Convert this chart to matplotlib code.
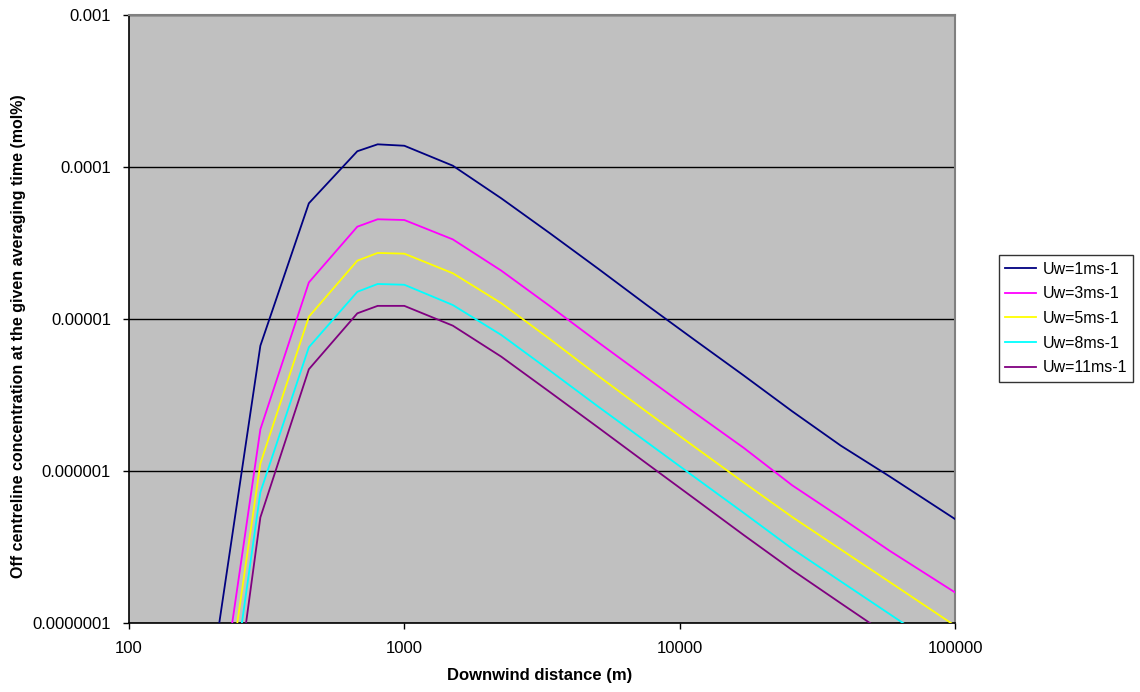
import numpy as np
import matplotlib
matplotlib.use("Agg")
import matplotlib.pyplot as plt

plt.rcParams["font.family"] = ["Liberation Sans", "DejaVu Sans"]

# ── Data: downwind distance (m) and off-centreline concentration (mol%) ──────
distance = [200, 300, 450, 675, 800, 1000, 1500, 2250, 3375, 5063, 7594,
            11391, 17086, 25629, 38443, 57665, 100000]

conc_uw1 = [4.7e-8, 6.67e-6, 5.77e-5, 1.27e-4, 1.41e-4, 1.38e-4, 1.02e-4,
            6.22e-5, 3.67e-5, 2.14e-5, 1.236e-5, 7.23e-6, 4.25e-6, 2.47e-6,
            1.47e-6, 9.25e-7, 4.83e-7]
conc_uw3 = [1.2e-8, 1.88e-6, 1.74e-5, 4.05e-5, 4.53e-5, 4.48e-5, 3.34e-5,
            2.08e-5, 1.217e-5, 7.02e-6, 4.1e-6, 2.4e-6, 1.42e-6, 8.05e-7,
            4.94e-7, 3.0e-7, 1.59e-7]
conc_uw5 = [7.0e-9, 1.12e-6, 1.035e-5, 2.42e-5, 2.72e-5, 2.69e-5, 2.0e-5,
            1.27e-5, 7.38e-6, 4.22e-6, 2.45e-6, 1.43e-6, 8.4e-7, 4.98e-7,
            3.05e-7, 1.87e-7, 9.6e-8]
conc_uw8 = [4.0e-9, 7.24e-7, 6.52e-6, 1.51e-5, 1.70e-5, 1.68e-5, 1.236e-5,
            7.85e-6, 4.58e-6, 2.65e-6, 1.55e-6, 9.05e-7, 5.3e-7, 3.08e-7,
            1.88e-7, 1.15e-7, 5.9e-8]
conc_uw11 = [2.2e-9, 4.95e-7, 4.67e-6, 1.09e-5, 1.22e-5, 1.22e-5, 9.04e-6,
             5.65e-6, 3.31e-6, 1.93e-6, 1.12e-6, 6.52e-7, 3.79e-7, 2.23e-7,
             1.35e-7, 8.2e-8, 4.2e-8]

series_labels = ["Uw=1ms-1", "Uw=3ms-1", "Uw=5ms-1", "Uw=8ms-1", "Uw=11ms-1"]
series_values = [conc_uw1, conc_uw3, conc_uw5, conc_uw8, conc_uw11]
series_colors = ["#000080", "#FF00FF", "#FFFF00", "#00FFFF", "#800080"]

x_ticks = [100, 1000, 10000, 100000]
x_ticklabels = ["100", "1000", "10000", "100000"]
y_ticks = [1e-7, 1e-6, 1e-5, 1e-4, 1e-3]
y_ticklabels = ["0.0000001", "0.000001", "0.00001", "0.0001", "0.001"]

# ── Figure ───────────────────────────────────────────────────────────────────
fig = plt.figure(figsize=(11.4, 6.92), dpi=100)
ax = fig.add_axes([129 / 1140, 69 / 692, 826 / 1140, 608 / 692])
ax.set_facecolor("#C0C0C0")

ax.set_xscale("log")
ax.set_yscale("log")
ax.set_xlim(100, 100000)
ax.set_ylim(1e-7, 1e-3)

for label, vals, col in zip(series_labels, series_values, series_colors):
    ax.plot(distance, vals, color=col, lw=1.3, label=label, zorder=3)

ax.set_xticks(x_ticks)
ax.set_xticklabels(x_ticklabels)
ax.set_yticks(y_ticks)
ax.set_yticklabels(y_ticklabels)
ax.xaxis.set_minor_locator(matplotlib.ticker.NullLocator())
ax.yaxis.set_minor_locator(matplotlib.ticker.NullLocator())
ax.tick_params(axis="both", direction="out", length=4, width=1,
               labelsize=12, pad=9, colors="black")

ax.yaxis.grid(True, color="black", lw=1.0, zorder=1)
ax.set_axisbelow(True)

for side in ("left", "bottom"):
    ax.spines[side].set_color("black")
    ax.spines[side].set_linewidth(1.2)
for side in ("top", "right"):
    ax.spines[side].set_color("#808080")
    ax.spines[side].set_linewidth(1.5)

ax.set_xlabel("Downwind distance (m)", fontsize=12, fontweight="bold",
              va="center", ha="center")
ax.xaxis.set_label_coords(0.4976, -0.087)
ax.set_ylabel("Off centreline concentration at the given averaging time (mol%)",
              fontsize=11.5, fontweight="bold", va="center", ha="center")
ax.yaxis.set_label_coords(-0.134, 0.472)

leg = ax.legend(loc="center left", bbox_to_anchor=(1.0533, 0.5008),
                fontsize=11.5, frameon=True, fancybox=False,
                edgecolor="black", handlelength=1.9, handletextpad=0.42,
                labelspacing=0.6, borderpad=0.4, borderaxespad=0)
leg.get_frame().set_linewidth(1.0)

fig.savefig("out.png", dpi=100, facecolor="white")
